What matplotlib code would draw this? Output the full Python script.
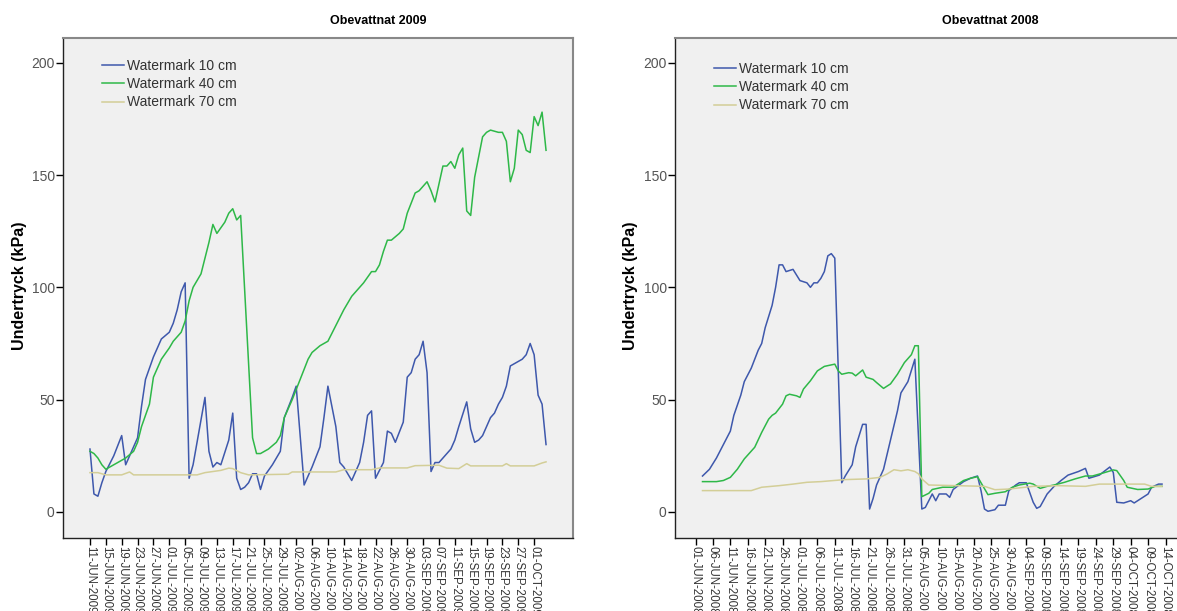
import numpy as np
import pandas as pd
import matplotlib
matplotlib.use("Agg")
import matplotlib.pyplot as plt

plt.rcParams["font.family"] = ["Liberation Sans", "DejaVu Sans"]

SERIES = ["Watermark 10 cm", "Watermark 40 cm", "Watermark 70 cm"]
COLORS = ["#3e58ac", "#2eb848", "#d3ce97"]

# --- Obevattnat 2009, days counted from 11-JUN-2009 ---
start_2009 = "2009-06-11"
days_10_2009 = [0, 1, 2, 3, 4, 6, 8, 9, 10, 12, 13, 14, 16, 18, 20, 21, 22, 23, 24, 25,
                26, 27, 29, 30, 31, 32, 33, 35, 36, 37, 38, 39, 40, 41, 42, 43, 44, 46, 48, 49,
                51, 52, 54, 56, 58, 59, 60, 62, 63, 64, 66, 68, 69, 70, 71, 72, 74, 75, 76, 77,
                79, 80, 81, 82, 83, 84, 85, 86, 87, 88, 89, 91, 92, 93, 95, 96, 97, 98, 99, 100,
                101, 102, 103, 104, 105, 106, 107, 108, 109, 110, 111, 112, 113, 114, 115]
kpa_10_2009 = [28, 8, 7, 13, 18, 25, 34, 21, 25, 33, 47, 59, 69, 77, 80, 84, 90, 98, 102, 15,
               21, 31, 51, 27, 20, 22, 21, 32, 44, 15, 10, 11, 13, 17, 17, 10, 16, 21, 27, 42,
               51, 56, 12, 20, 29, 42, 56, 38, 22, 20, 14, 22, 31, 43, 45, 15, 22, 36, 35, 31,
               40, 60, 62, 68, 70, 76, 62, 18, 22, 22, 24, 28, 32, 38, 49, 37, 31, 32, 34, 38,
               42, 44, 48, 51, 56, 65, 66, 67, 68, 70, 75, 70, 52, 48, 30]
days_40_2009 = [0, 1, 2, 3, 4, 6, 7, 9, 11, 12, 13, 15, 16, 18, 20, 21, 23, 24, 25, 26,
                28, 29, 30, 31, 32, 34, 35, 36, 37, 38, 41, 42, 43, 45, 47, 48, 49, 51, 53, 55,
                56, 58, 60, 62, 64, 66, 67, 69, 71, 72, 73, 74, 75, 76, 78, 79, 80, 82, 83, 85,
                86, 87, 88, 89, 90, 91, 92, 93, 94, 95, 96, 97, 98, 99, 100, 101, 103, 104, 105, 106,
                107, 108, 109, 110, 111, 112, 113, 114, 115]
kpa_40_2009 = [27, 26, 24, 21, 19, 21, 22, 24, 27, 31, 38, 48, 60, 68, 73, 76, 80, 85, 94, 100,
               106, 113, 120, 128, 124, 129, 133, 135, 130, 132, 33, 26, 26, 28, 31, 34, 42, 50, 59, 68,
               71, 74, 76, 83, 90, 96, 98, 102, 107, 107, 110, 116, 121, 121, 124, 126, 133, 142, 143, 147,
               143, 138, 146, 154, 154, 156, 153, 159, 162, 134, 132, 149, 158, 167, 169, 170, 169, 169, 165, 147,
               153, 170, 168, 161, 160, 176, 172, 178, 161]
days_70_2009 = [0, 2, 4, 8, 10, 11, 27, 29, 33, 35, 36, 38, 40, 50, 51, 62, 64, 71, 73, 80,
                82, 88, 90, 93, 95, 96, 104, 105, 106, 112, 114, 115]
kpa_70_2009 = [17.5, 17.5, 16.5, 16.5, 17.8, 16.5, 16.5, 17.5, 18.5, 19.5, 19.3, 17.5, 16.5, 16.8, 17.8, 17.8,
               18.8, 18.8, 19.6, 19.6, 20.6, 20.8, 19.5, 19.3, 21.5, 20.5, 20.5, 21.5, 20.5, 20.5, 21.8, 22.3]

# --- Obevattnat 2008, days counted from 01-JUN-2008 ---
start_2008 = "2008-06-01"
days_10_2008 = [2, 4, 6, 8, 10, 11, 13, 14, 16, 18, 19, 20, 22, 23, 24, 25, 26, 28, 30, 32,
                33, 34, 35, 36, 37, 38, 39, 40, 42, 43, 45, 46, 48, 49, 50, 51, 52, 54, 56, 58,
                59, 61, 62, 63, 65, 66, 68, 69, 70, 72, 73, 74, 77, 79, 81, 82, 83, 84, 86, 87,
                89, 90, 92, 93, 95, 97, 98, 99, 101, 103, 105, 107, 110, 112, 113, 116, 119, 120, 121, 123,
                125, 126, 128, 130, 131, 133, 134]
kpa_10_2008 = [16, 19, 24, 30, 36, 43, 52, 58, 64, 72, 75, 82, 92, 100, 110, 110, 107, 108, 103, 102,
               100, 102, 102, 104, 107, 114, 115, 113, 13, 16, 21, 29, 39, 39, 1.3, 6, 12, 19, 32, 45,
               53, 58, 63, 68, 1.3, 2, 8, 5, 8, 8, 6.5, 10, 13.5, 15, 16, 9.5, 1.3, 0.3, 1, 3,
               3, 9.5, 12, 13, 13, 4.3, 1.6, 2.4, 8, 11.4, 14, 16.4, 18, 19.4, 15, 16.4, 20, 17.6, 4.3, 4,
               5, 4, 6, 8, 11, 12.4, 12.4]
days_40_2008 = [2, 6, 8, 10, 12, 14, 17, 19, 21, 22, 23, 25, 26, 27, 29, 30, 31, 33, 35, 37,
                40, 41, 42, 44, 45, 46, 48, 49, 51, 52, 54, 56, 58, 60, 62, 63, 64, 65, 67, 68,
                71, 74, 77, 79, 81, 82, 84, 86, 89, 91, 93, 96, 97, 99, 101, 103, 106, 109, 112, 114,
                117, 120, 121, 123, 124, 127, 130, 132, 134]
kpa_40_2008 = [13.5, 13.5, 14, 15.4, 19, 23.6, 28.8, 35.4, 41.3, 43, 44, 48, 51.7, 52.4, 51.7, 51, 54.7, 58.4, 62.8, 64.8,
               65.8, 62.8, 61.3, 62, 61.8, 60.6, 63.2, 60, 59, 57.6, 55, 57, 61.3, 66.5, 70, 74, 74, 6.8, 8.3, 10,
               11, 11, 14, 15, 15.7, 13, 7.7, 8.3, 9, 11, 12, 12.8, 12.4, 10.5, 11.4, 12, 13.2, 14.7, 16, 16,
               17.3, 18.7, 18.4, 14, 11, 10, 10.2, 11.4, 11.4]
days_70_2008 = [2, 16, 19, 24, 28, 32, 36, 39, 43, 49, 53, 55, 57, 59, 61, 63, 64, 65, 67, 83,
                86, 90, 97, 104, 112, 116, 129, 131, 134]
kpa_70_2008 = [9.5, 9.5, 11, 11.7, 12.4, 13.2, 13.5, 13.9, 14.4, 14.7, 15.4, 16.9, 18.8, 18.3, 18.8, 18, 17, 14.7, 12, 11.4,
               9.9, 10.2, 11.4, 11.7, 11.4, 12.4, 12.4, 11.4, 11.4]


def draw_panel(ax, start, series, tick_step, tick_count, xlim_days, legend_y):
    base = np.datetime64(start)
    for (days, vals), label, color in zip(series, SERIES, COLORS):
        x = base + np.array(days, dtype="timedelta64[D]")
        ax.plot(x, vals, color=color, lw=1.1, label=label)

    # one label every few days, SPSS style DD-MON-YYYY read top to bottom
    ticks = pd.date_range(start, periods=tick_count, freq=f"{tick_step}D")
    ax.set_xticks(ticks)
    ax.set_xticklabels([t.strftime("%d-%b-%Y").upper() for t in ticks],
                       rotation=-90, fontsize=8.3, color="#333333", va="top", ha="center")
    lo = pd.Timestamp(start) + pd.Timedelta(days=xlim_days[0])
    hi = pd.Timestamp(start) + pd.Timedelta(days=xlim_days[1])
    ax.set_xlim(lo, hi)

    ax.set_ylim(-11.6, 211)
    ax.set_yticks([0, 50, 100, 150, 200])
    ax.tick_params(axis="y", labelsize=10, labelcolor="#555555", length=5, width=1, pad=1)
    ax.tick_params(axis="x", length=5, width=1, pad=1)
    ax.set_facecolor("#f0f0f0")
    for side in ("left", "bottom"):
        ax.spines[side].set_color("#222222")
        ax.spines[side].set_linewidth(1.0)
    for side in ("top", "right"):
        ax.spines[side].set_color("#888888")
        ax.spines[side].set_linewidth(1.5)

    leg = ax.legend(loc="upper left", bbox_to_anchor=(0.065, legend_y), frameon=False,
                    fontsize=10, handlelength=1.6, handletextpad=0.2, labelspacing=0.32,
                    borderaxespad=0)
    for t in leg.get_texts():
        t.set_color("#333333")


def main():
    fig = plt.figure(figsize=(11.77, 6.11), dpi=100)
    W, H = 1177, 611

    ax1 = fig.add_axes([63 / W, (H - 538) / H, 510 / W, 500 / H])
    draw_panel(ax1, start_2009,
               [(days_10_2009, kpa_10_2009), (days_40_2009, kpa_40_2009), (days_70_2009, kpa_70_2009)],
               4, 29, (-6.8, 121.8), 0.97)

    ax2 = fig.add_axes([675 / W, (H - 538) / H, 510 / W, 500 / H])
    draw_panel(ax2, start_2008,
               [(days_10_2008, kpa_10_2008), (days_40_2008, kpa_40_2008), (days_70_2008, kpa_70_2008)],
               5, 28, (-5.9, 140.6), 0.964)

    fig.text(378 / W, 1 - 21 / H, "Obevattnat 2009", ha="center", va="center",
             fontsize=9, fontweight="bold")
    fig.text(990 / W, 1 - 21 / H, "Obevattnat 2008", ha="center", va="center",
             fontsize=9, fontweight="bold")
    for xpx in (20, 631):
        fig.text(xpx / W, 1 - 286 / H, "Undertryck (kPa)", rotation=90, ha="center",
                 va="center", fontsize=11.5, fontweight="bold")

    fig.savefig("out.png", dpi=100)


if __name__ == "__main__":
    main()
